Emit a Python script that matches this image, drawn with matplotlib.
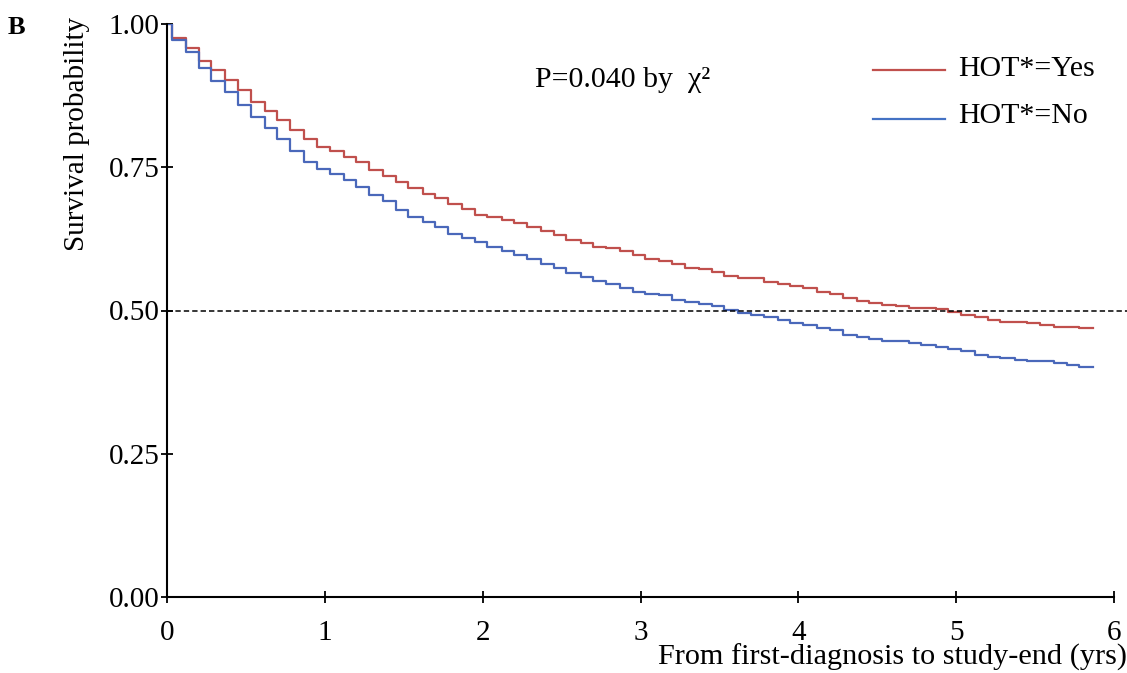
import matplotlib
matplotlib.use("Agg")
import matplotlib.pyplot as plt

plt.rcParams['font.family'] = ['Liberation Serif', 'DejaVu Serif']

# Event times (years) shared by both curves
step_times = [0.03, 0.12, 0.20, 0.28, 0.37, 0.45, 0.53, 0.62, 0.70, 0.78, 0.87, 0.95,
              1.03, 1.12, 1.20, 1.28, 1.37, 1.45, 1.53, 1.62, 1.70, 1.78, 1.87, 1.95,
              2.03, 2.12, 2.20, 2.28, 2.37, 2.45, 2.53, 2.62, 2.70, 2.78, 2.87, 2.95,
              3.03, 3.12, 3.20, 3.28, 3.37, 3.45, 3.53, 3.62, 3.70, 3.78, 3.87, 3.95,
              4.03, 4.12, 4.20, 4.28, 4.37, 4.45, 4.53, 4.62, 4.70, 4.78, 4.87, 4.95,
              5.03, 5.12, 5.20, 5.28, 5.37, 5.45, 5.53, 5.62, 5.70, 5.78]
end_time = 5.87

surv_yes = [0.975, 0.958, 0.936, 0.919, 0.902, 0.884, 0.864, 0.849, 0.832, 0.815, 0.799, 0.786,
            0.778, 0.768, 0.759, 0.746, 0.734, 0.724, 0.713, 0.703, 0.696, 0.685, 0.677, 0.667,
            0.663, 0.658, 0.652, 0.645, 0.639, 0.631, 0.623, 0.617, 0.611, 0.609, 0.604, 0.596,
            0.590, 0.586, 0.581, 0.575, 0.572, 0.567, 0.561, 0.556, 0.556, 0.550, 0.547, 0.543,
            0.539, 0.533, 0.528, 0.521, 0.517, 0.513, 0.510, 0.507, 0.505, 0.504, 0.502, 0.498,
            0.492, 0.489, 0.483, 0.480, 0.480, 0.478, 0.475, 0.472, 0.472, 0.469]

surv_no = [0.972, 0.952, 0.923, 0.901, 0.882, 0.859, 0.838, 0.819, 0.799, 0.778, 0.760, 0.747,
           0.738, 0.728, 0.716, 0.702, 0.691, 0.675, 0.664, 0.654, 0.646, 0.633, 0.626, 0.619,
           0.610, 0.604, 0.597, 0.590, 0.581, 0.574, 0.565, 0.559, 0.552, 0.546, 0.539, 0.533,
           0.528, 0.527, 0.518, 0.515, 0.511, 0.507, 0.501, 0.495, 0.492, 0.489, 0.483, 0.479,
           0.475, 0.470, 0.466, 0.458, 0.454, 0.451, 0.446, 0.446, 0.443, 0.440, 0.437, 0.433,
           0.429, 0.422, 0.419, 0.417, 0.414, 0.411, 0.411, 0.408, 0.405, 0.402]

x_ticks = [0, 1, 2, 3, 4, 5, 6]
y_ticks = [0.00, 0.25, 0.50, 0.75, 1.00]
y_ticklabels = ["0.00", "0.25", "0.50", "0.75", "1.00"]

color_yes = '#C0504D'
color_no = '#4A68BA'

fig = plt.figure(figsize=(11.27, 6.73), dpi=100)
ax = fig.add_axes([167/1127, 1 - 597/673, 947/1127, 573/673])

xs = [0.0] + step_times + [end_time]
ax.step(xs, [1.0] + surv_yes + [surv_yes[-1]], where='post', color=color_yes, lw=1.6)
ax.step(xs, [1.0] + surv_no + [surv_no[-1]], where='post', color=color_no, lw=1.6)

ax.plot([0, 6.08], [0.5, 0.5], ls=(0, (3.5, 2)), color='black', lw=1.1, clip_on=False)

ax.set_xlim(0, 6)
ax.set_ylim(0, 1)
ax.set_xticks(x_ticks)
ax.set_yticks(y_ticks)
ax.set_yticklabels(y_ticklabels)
for s in ['top', 'right']:
    ax.spines[s].set_visible(False)
for s in ['left', 'bottom']:
    ax.spines[s].set_linewidth(1.5)
ax.tick_params(axis='both', direction='inout', length=9, width=1.3, labelsize=21)
ax.tick_params(axis='x', pad=12)
ax.tick_params(axis='y', pad=1)

fig.text(77/1127, 1 - 134/673, "Survival probability", rotation=90, fontsize=21,
         ha='center', va='center')
fig.text(1127/1127, 1 - 657/673, "From first-diagnosis to study-end (yrs)", fontsize=21.8,
         ha='right', va='center')
fig.text(8/1127, 1 - 28/673, "B", fontsize=19, fontweight='bold', ha='left', va='center')
fig.text(535/1127, 1 - 80/673, "P=0.040 by  χ²", fontsize=21.5, ha='left', va='center')

fig.add_artist(plt.Line2D([873/1127, 945/1127], [1 - 70/673, 1 - 70/673], color=color_yes, lw=1.6))
fig.add_artist(plt.Line2D([873/1127, 945/1127], [1 - 119/673, 1 - 119/673], color='#4472C4', lw=1.6))
fig.text(958/1127, 1 - 69/673, "HOT*=Yes", fontsize=21.5, ha='left', va='center')
fig.text(958/1127, 1 - 116/673, "HOT*=No", fontsize=21.5, ha='left', va='center')

fig.savefig("out.png", dpi=100)
